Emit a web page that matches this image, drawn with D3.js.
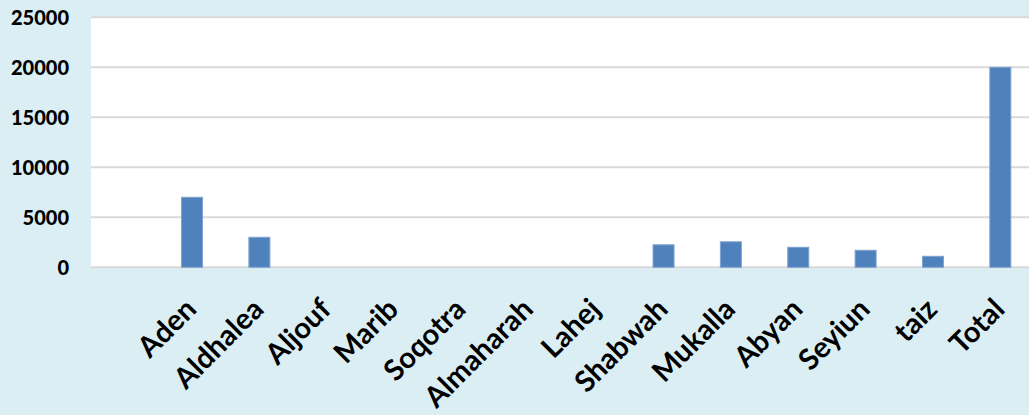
<!DOCTYPE html>
<html>
<head>
<meta charset="utf-8">
<script src="https://d3js.org/d3.v7.min.js"></script>
<style>
    body { margin: 0; background: #daeef3; }
    svg { display: block; }
</style>
</head>
<body>
<script>
// data (first slot is an empty category)
var categories = ["", "Aden", "Aldhalea", "Aljouf", "Marib", "Soqotra", "Almaharah",
    "Lahej", "Shabwah", "Mukalla", "Abyan", "Seyiun", "taiz", "Total"];
var values = [0, 7000, 3000, 0, 0, 0, 0, 0, 2250, 2550, 2000, 1700, 1100, 20000];
var yTicks = [0, 5000, 10000, 15000, 20000, 25000];

window.onload = drawChart();

function drawChart() {
    var width = 1029,
        height = 415;

    var svg = d3.select("body")
        .append("svg")
        .attr("width", width)
        .attr("height", height);

    //plot area
    var left = 91, right = 1034, top = 17.3, bottom = 267.3;

    var x = d3.scaleBand()
        .domain(categories)
        .range([left, right])
        .paddingInner(0.688)
        .paddingOuter(0.344);

    var y = d3.scaleLinear()
        .domain([0, 25000])
        .range([bottom, top]);

    svg.append("rect")
        .attr("x", left)
        .attr("y", top)
        .attr("width", width - left)
        .attr("height", bottom - top)
        .attr("fill", "#ffffff");

    //gridlines
    svg.selectAll(".grid")
        .data(yTicks)
        .enter()
        .append("line")
        .attr("class", "grid")
        .attr("x1", left)
        .attr("x2", width)
        .attr("y1", function(d){ return y(d); })
        .attr("y2", function(d){ return y(d); })
        .attr("stroke", "#d9d9d9")
        .attr("stroke-width", 2);

    //y tick labels
    svg.selectAll(".ytick")
        .data(yTicks)
        .enter()
        .append("text")
        .attr("class", "ytick")
        .attr("x", 69)
        .attr("y", function(d){ return y(d); })
        .attr("dy", "0.36em")
        .attr("text-anchor", "end")
        .style("font-family", "Lato")
        .style("font-weight", "900")
        .style("font-size", "20px")
        .attr("fill", "#000")
        .text(function(d){ return d; });

    //bars
    svg.selectAll(".bar")
        .data(values)
        .enter()
        .filter(function(d){ return d > 0; })
        .append("rect")
        .attr("class", "bar")
        .attr("x", function(d, i){ return x(categories[values.indexOf(d)]); })
        .attr("y", function(d){ return y(d); })
        .attr("width", x.bandwidth())
        .attr("height", function(d){ return bottom - y(d); })
        .attr("fill", "#4f81bd")
        .attr("stroke", "#7fa3d1")
        .attr("stroke-width", 1);

    //category labels
    svg.selectAll(".xlabel")
        .data(categories)
        .enter()
        .append("text")
        .attr("class", "xlabel")
        .attr("transform", function(d){
            return "translate(" + (x(d) + x.bandwidth() / 2 + 6) + ",311) rotate(-45)";
        })
        .attr("text-anchor", "end")
        .style("font-family", "Lato")
        .style("font-weight", "bold")
        .style("font-size", "29px")
        .attr("fill", "#000")
        .text(function(d){ return d; });
}
</script>
</body>
</html>
